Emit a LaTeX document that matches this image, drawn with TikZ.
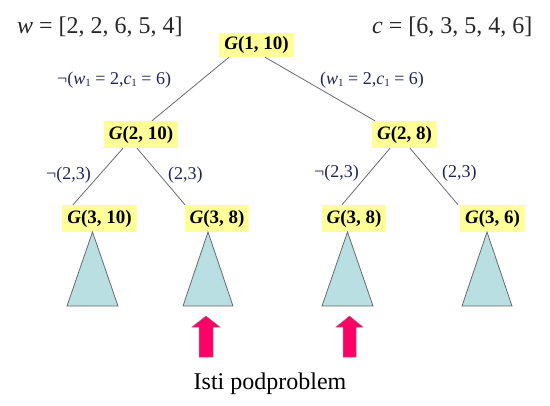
\documentclass[tikz,border=0pt]{standalone}
\usepackage{fontspec}
\setmainfont{Liberation Serif}
\usetikzlibrary{calc}
\definecolor{boxyellow}{HTML}{FFFF99}
\definecolor{triblue}{HTML}{B9DFE3}
\definecolor{arrowred}{HTML}{FF0066}
\definecolor{labnavy}{HTML}{22225A}
\definecolor{edgegray}{HTML}{6A6A6A}
\tikzset{
  gnode/.style={fill=boxyellow, draw=none, inner xsep=5bp, inner ysep=0bp,
    minimum height=27bp, font=\fontsize{19bp}{21bp}\selectfont\bfseries, text=black},
  edgelab/.style={inner sep=0pt, anchor=base west, text=labnavy,
    font=\fontsize{18bp}{20bp}\selectfont},
  treeedge/.style={draw=edgegray, line width=0.8bp},
  subtree/.style={fill=triblue, draw=edgegray, line width=0.8bp, line join=miter},
  blockarrow/.style={fill=arrowred, draw=gray, line width=0.5bp},
  toptext/.style={inner sep=0pt, anchor=base west, text=black!85,
    font=\fontsize{24bp}{26bp}\selectfont}
}
\newcommand{\Gl}[1]{\textit{G}(#1)}
\newcommand{\subone}{\raisebox{-0.25ex}{\fontsize{11bp}{12bp}\selectfont 1}}
\begin{document}
\begin{tikzpicture}[x=1bp,y=-1bp]
\useasboundingbox (0,0) rectangle (550,405);

% top texts
\node[toptext] (wtxt) at (17,33) {\textit{w} = [2, 2, 6, 5, 4]};
\node[toptext] (ctxt) at (372,33) {\textit{c} = [6, 3, 5, 4, 6]};

% tree nodes
\node[gnode, minimum height=24bp] (r) at (256.5,45) {\Gl{1, 10}};
\node[gnode] (a) at (141,134.5) {\Gl{2, 10}};
\node[gnode] (b) at (404.5,134.5) {\Gl{2, 8}};
\node[gnode] (aa) at (99.5,218.5) {\Gl{3, 10}};
\node[gnode] (ab) at (217,218.5) {\Gl{3, 8}};
\node[gnode] (ba) at (354,218.5) {\Gl{3, 8}};
\node[gnode] (bb) at (492.5,218.5) {\Gl{3, 6}};

% connectors
\draw[treeedge] ($(r.south)+(-27.5,0)$) -- ($(a.north)+(11,0)$);
\draw[treeedge] ($(r.south)+(8.5,0)$) -- ($(b.north)+(-29.5,0)$);
\draw[treeedge] ($(a.south)+(-18,0)$) -- ($(aa.north)+(-26.5,0)$);
\draw[treeedge] ($(a.south)+(-4,0)$) -- ($(ab.north)+(-32,0)$);
\draw[treeedge] ($(b.south)+(-14.5,0)$) -- ($(ba.north)+(-12,0)$);
\draw[treeedge] ($(b.south)+(5.5,0)$) -- ($(bb.north)+(-34.5,0)$);

% edge labels
\node[edgelab] (l1) at (57,84) {¬(\textit{w}\subone\ = 2,\textit{c}\subone\ = 6)};
\node[edgelab] (l2) at (320,84) {(\textit{w}\subone\ = 2,\textit{c}\subone\ = 6)};
\node[edgelab] (l3) at (46,179) {¬(2,3)};
\node[edgelab] (l4) at (168,179) {(2,3)};
\node[edgelab] (l5) at (314,177) {¬(2,3)};
\node[edgelab] (l6) at (442,177) {(2,3)};

% subtrees
\draw[subtree] (92.5,232) -- (118,306) -- (67,306) -- cycle;
\draw[subtree] (208,232) -- (233,306) -- (183,306) -- cycle;
\draw[subtree] (347.5,232) -- (373,306) -- (322,306) -- cycle;
\draw[subtree] (487,232) -- (512,306) -- (462,306) -- cycle;

% block arrows
\draw[blockarrow] (206,316) -- (220,327) -- (213,327) -- (213,357) -- (199,357) -- (199,327) -- (192,327) -- cycle;
\draw[blockarrow] (349.5,316) -- (363,327) -- (356,327) -- (356,357) -- (343,357) -- (343,327) -- (336,327) -- cycle;

% caption
\node[inner sep=0pt, anchor=base, font=\fontsize{24bp}{26bp}\selectfont, text=black] (cap) at (270,389) {Isti podproblem};
\end{tikzpicture}
\end{document}
